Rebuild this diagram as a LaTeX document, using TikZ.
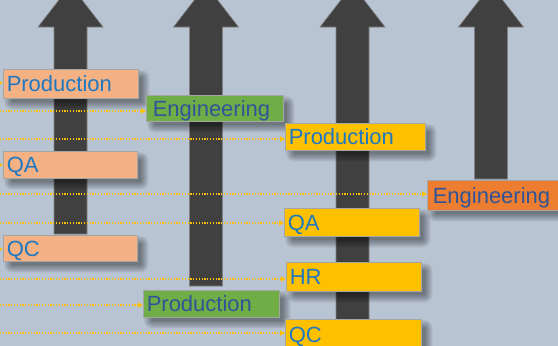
\documentclass[tikz,border=0pt]{standalone}
\usepackage{fontspec}
\setmainfont{Liberation Sans}
\usetikzlibrary{arrows.meta}
\pgfdeclarelayer{back}
\pgfdeclarelayer{shade}
\pgfsetlayers{back,shade,main}
\definecolor{backgr}{HTML}{B8C4D2}
\definecolor{shaft}{HTML}{404040}
\definecolor{salmon}{HTML}{F4B183}
\definecolor{leaf}{HTML}{70AD47}
\definecolor{amber}{HTML}{FFC000}
\definecolor{tangerine}{HTML}{ED7D31}
\definecolor{textblue}{HTML}{1F78C1}
\definecolor{inkblue}{HTML}{2F5597}
\definecolor{rim}{HTML}{A5A5A5}
\tikzset{
	dept/.style={anchor=north west, inner xsep=3.5pt, inner ysep=0pt,
		text height=15.7pt, text depth=0pt, align=left,
		font=\fontsize{22}{24}\selectfont, draw=rim, line width=0.5pt},
	firstcol/.style={dept, fill=salmon, text=textblue},
	secondcol/.style={dept, fill=leaf, text=inkblue},
	thirdcol/.style={dept, fill=amber, text=textblue},
	fourthcol/.style={dept, fill=tangerine, text=inkblue},
	feed/.style={-{Triangle[length=5pt,width=5pt]}, amber, line width=1.3pt,
		dash pattern=on 1.2pt off 1.6pt}
}
% big upward arrow: centre x, bottom y
\newcommand{\bigarrow}[2]{%
	\filldraw[fill=shaft, draw=gray, line width=0.6pt]
	(#1-16.5,#2) -- (#1-16.5,27) -- (#1-32.5,27) -- (#1,-15)
	-- (#1+32.5,27) -- (#1+16.5,27) -- (#1+16.5,#2) -- cycle;
}
% department box: name, style, x, y, text width, height, label
\newcommand{\dept}[7]{%
	\node[#2, text width=#5pt, minimum height=#6pt] (#1) at (#3,#4) {#7};
	\begin{pgfonlayer}{shade}
		\foreach \r in {0,...,8}
		\fill[black, opacity=0.05, rounded corners=\r pt]
		([shift={(9-\r,9-\r)}]#1.north west) rectangle ([shift={(3+\r,3+\r)}]#1.south east);
	\end{pgfonlayer}
}
\begin{document}
\begin{tikzpicture}[x=1pt,y=-1pt]
	\useasboundingbox (0,0) rectangle (558,346);
	\begin{pgfonlayer}{back}
		\fill[backgr] (0,0) rectangle (558,346);
		% arrows
		\bigarrow{70.5}{234}
		\bigarrow{206}{286}
		\bigarrow{352.5}{360}
		\bigarrow{491}{179}
	\end{pgfonlayer}
	% boxes
	\dept{prodA}{firstcol}{3}{69}{128}{29}{Production}
	\dept{qaA}{firstcol}{3}{151}{127}{27}{QA}
	\dept{qcA}{firstcol}{3}{235}{127}{26}{QC}
	\dept{engB}{secondcol}{146}{95}{130}{26}{\hspace*{3pt}Engineering}
	\dept{prodB}{secondcol}{143}{290}{129}{27}{Production}
	\dept{prodC}{thirdcol}{285}{123}{133}{27}{Production}
	\dept{qaC}{thirdcol}{284}{208}{128}{28}{QA}
	\dept{hrC}{thirdcol}{286}{262}{128}{29}{HR}
	\dept{qcC}{thirdcol}{285}{319}{129}{30}{QC}
	\dept{engD}{fourthcol}{427}{180}{128}{30}{\hspace*{2pt}Engineering}
	% feeds from the left
	\coordinate (inA1) at (-20,83);
	\coordinate (inA2) at (-20,165);
	\coordinate (inA3) at (-20,249);
	\coordinate (inB1) at (0,111);
	\coordinate (inB2) at (0,305);
	\coordinate (inC1) at (0,139);
	\coordinate (inC2) at (0,223);
	\coordinate (inC3) at (0,279);
	\coordinate (inC4) at (0,333);
	\coordinate (inD1) at (0,194);
	\draw[feed] (inA1) -- (prodA.west |- inA1);
	\draw[feed] (inA2) -- (qaA.west |- inA2);
	\draw[feed] (inA3) -- (qcA.west |- inA3);
	\draw[feed] (inB1) -- (engB.west |- inB1);
	\draw[feed] (inB2) -- (prodB.west |- inB2);
	\draw[feed] (inC1) -- (prodC.west |- inC1);
	\draw[feed] (inC2) -- (qaC.west |- inC2);
	\draw[feed] (inC3) -- (hrC.west |- inC3);
	\draw[feed] (inC4) -- (qcC.west |- inC4);
	\draw[feed] (inD1) -- (engD.west |- inD1);
\end{tikzpicture}
\end{document}
